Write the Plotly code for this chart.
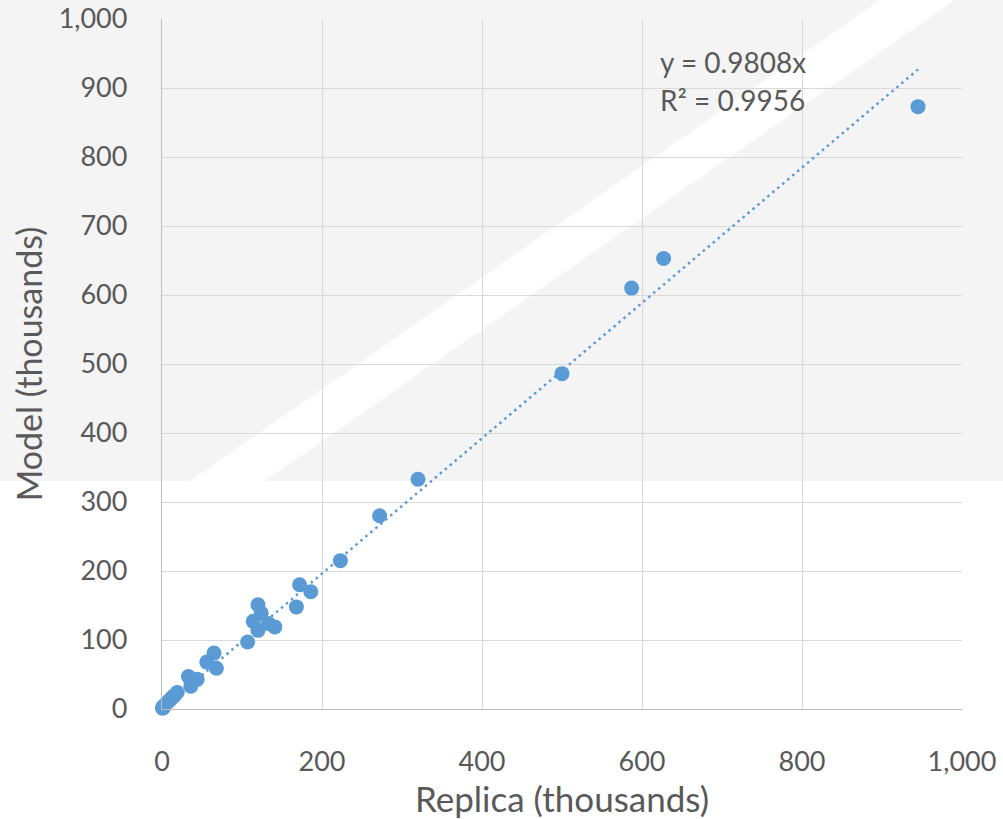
import plotly.graph_objects as go

# Data (thousands)
replica = [945, 627, 587, 500, 320, 272, 223, 172, 186, 168,
           120, 124, 114, 120, 133, 141, 107, 65, 56, 68,
           33, 36, 44, 36, 19, 15, 12, 9, 6, 3, 1, 0.5, 2]
model = [873, 653, 610, 486, 333, 280, 215, 180, 170, 148,
         151, 139, 127, 114, 124, 119, 97, 81, 68, 59,
         47, 41, 43, 33, 24, 19, 16, 12, 9, 5, 3, 1, 2]
slope = 0.9808
r2 = 0.9956
x_ticks = [0, 200, 400, 600, 800, 1000]
y_ticks = [0, 100, 200, 300, 400, 500, 600, 700, 800, 900, 1000]

W, H = 1003, 819
L, R, T, B = 162, 41, 19, 110
pw, ph = W - L - R, H - T - B


def px(x):
    return (x - L) / pw


def py(y):
    return (H - B - y) / ph


BLUE = "#5b9bd5"
TXT = "#595959"
FONT = "Lato"

trend_x = [0, max(replica)]
trend_y = [slope * v for v in trend_x]

fig = go.Figure()
fig.add_trace(go.Scatter(x=replica, y=model, mode="markers",
                         marker=dict(size=15, color=BLUE, line=dict(width=0)),
                         cliponaxis=False, showlegend=False))
fig.add_trace(go.Scatter(x=trend_x, y=trend_y, mode="lines",
                         line=dict(color=BLUE, width=2.5, dash="2.5px,4px"),
                         cliponaxis=False, showlegend=False))

shapes = [
    dict(type="rect", xref="paper", yref="paper", layer="below",
         x0=px(0), x1=px(W), y0=py(481), y1=py(0),
         fillcolor="#f4f4f4", line=dict(width=0)),
    dict(type="path", xref="paper", yref="paper", layer="below",
         path=f"M {px(190)} {py(481)} L {px(265)} {py(481)} L {px(955)} {py(0)} L {px(880)} {py(0)} Z",
         fillcolor="#ffffff", line=dict(width=0)),
]

axis_common = dict(
    showgrid=True, gridcolor="#d9d9d9", gridwidth=1.3,
    zeroline=False, showline=True, linecolor="#bfbfbf", linewidth=1.3,
    tickfont=dict(family=FONT, size=27, color=TXT),
    tickformat=",d", ticks="", ticklabelstandoff=28, automargin=False,
)

fig.update_layout(
    width=W, height=H,
    margin=dict(l=L, r=R, t=T, b=B, autoexpand=False),
    paper_bgcolor="white", plot_bgcolor="rgba(0,0,0,0)",
    shapes=shapes,
    xaxis=dict(range=[0, 1000], tickvals=x_ticks,
               title=dict(text="Replica (thousands)",
                          font=dict(family=FONT, size=35, color=TXT), standoff=12),
               **axis_common),
    yaxis=dict(range=[0, 1000], tickvals=y_ticks,
               title=dict(text="Model (thousands)",
                          font=dict(family=FONT, size=34, color=TXT), standoff=5),
               **axis_common),
    annotations=[
        dict(x=620, y=938, xref="x", yref="y", text=f"y = {slope}x",
             showarrow=False, xanchor="left", yanchor="middle",
             font=dict(family=FONT, size=28, color=TXT)),
        dict(x=620, y=883, xref="x", yref="y", text=f"R² = {r2}",
             showarrow=False, xanchor="left", yanchor="middle",
             font=dict(family=FONT, size=28, color=TXT)),
    ],
)

fig.write_html("out.html",
               config={"displayModeBar": False},
               post_script="document.body.style.margin='0';document.body.style.overflow='hidden';")
